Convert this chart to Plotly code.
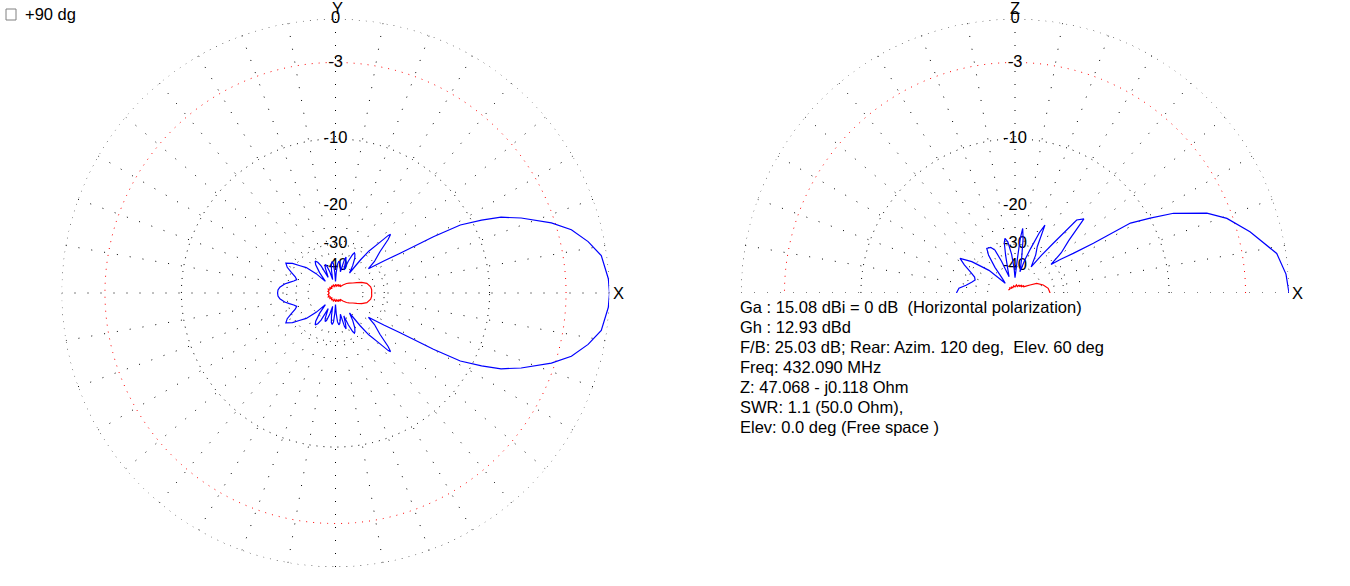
import plotly.graph_objects as go

# ---------------- data ----------------
# Azimuth (horizontal) plane, upper half 0..180 deg (pattern is symmetric)
az_deg = [0, 3, 8, 11.5, 15, 18, 22, 24.6, 26.5, 28.6,
          29.9, 31.6, 33.5, 35.5, 36.5, 39, 42.9, 45.5, 46.8, 47.5,
          49, 51.5, 53, 55, 58, 61, 63.5, 64.8, 66, 68,
          70, 72, 73.6, 75, 77, 80, 82, 84, 86, 88,
          90, 92, 94, 96, 98, 100, 102, 105, 108, 110,
          112, 115, 118, 120, 122.5, 125, 128, 131, 135, 139,
          142.5, 145.5, 149, 152, 155, 158, 161, 164, 167, 170,
          174, 177, 180]
az_hpol_db = [0, -0.05, -0.36, -1.06, -2.0, -3.27, -5.45, -7.1, -9.0, -11.4,
              -15.4, -22.3, -27.0, -31.5, -33.0, -29.5, -26.2, -22.5, -21.3, -21.8,
              -24.7, -28.4, -33, -42, -37, -33.5, -32, -31.6, -32.5, -36,
              -42, -37, -34.6, -36, -44, -40, -38, -37.3, -39, -45,
              -55, -45, -39, -37.5, -38.5, -43, -52, -44, -39, -38.3,
              -40, -48, -38, -35.5, -34.4, -36, -41, -50, -40, -34,
              -31.5, -28.8, -27.0, -28, -30, -32, -33, -32, -30.5, -29,
              -27.6, -27.1, -27]
az_v_deg = [0, 5, 10, 17, 22, 26, 30, 36, 41, 47,
            54, 60, 66, 72, 80, 88, 96, 104, 112, 120,
            128, 136, 144, 152, 160, 168, 174, 180]
az_vpol_db = [-35.2, -35.1, -35.4, -36.9, -39.5, -42.6, -45.5, -48.5, -51, -56,
              -62, -58, -63, -59, -64, -60, -65, -60, -64, -61,
              -66, -62, -65, -61, -64, -62, -65, -64]

# Elevation plane, 0..180 deg
el_deg = [0, 4, 8.6, 14.6, 19.4, 22.6, 26.7, 29, 31.2, 32.4,
          34.2, 36.5, 38.4, 41, 44.3, 47.1, 49.8, 52.4, 55, 58.3,
          61.5, 64.3, 66.2, 68, 70.6, 73.5, 76.8, 79, 81.5, 83.2,
          84.5, 86, 88, 90, 92, 95, 98, 100.4, 102, 104,
          107, 110, 113, 115, 118, 122.3, 125, 128, 131, 135,
          139, 144, 147.8, 151, 155, 158.5, 162, 166, 171, 175,
          180]
el_hpol_db = [0, -0.15, -0.6, -2.1, -3.45, -4.8, -7.55, -9.95, -12.3, -18.8,
              -23.6, -27.5, -31, -26, -22.5, -17.3, -18.3, -25.6, -31, -38,
              -32, -29.1, -22.7, -25, -30.5, -36, -44, -36, -28, -25,
              -28, -36, -45, -50, -42, -34, -29, -27.7, -29, -34,
              -42, -48, -36, -30.5, -29, -28.6, -31, -37, -46, -52,
              -36, -28.4, -25, -27, -30, -32, -32.6, -31.5, -29.7, -27.5,
              -26.8]
el_v_deg = [0, 8, 15.8, 24, 28, 32, 36, 40, 45, 50,
            56, 62, 70, 80, 90, 100, 110, 120, 125, 135,
            145, 156]
el_vpol_db = [-35.7, -36.5, -38.8, -42.5, -48.3, -53, -57, -55, -60, -57,
              -62, -59, -64, -61, -66, -63, -67, -64, -67, -63,
              -65, -63]

# Scale grid
ring_db_black = [0, -10, -30, -40]
ring_db_red = [-3]
label_db = [0, -3, -10, -20, -30, -40]
label_text = ["0", "-3", "-10", "-20", "-30", "-40"]
spoke_step_deg = 10
spoke_inner_db = -40

info_lines = [
    "Ga : 15.08 dBi = 0 dB \u00a0(Horizontal polarization)",
    "Gh : 12.93 dBd",
    "F/B: 25.03 dB; Rear: Azim. 120 deg, \u00a0Elev. 60 deg",
    "Freq: 432.090 MHz",
    "Z: 47.068 - j0.118 Ohm",
    "SWR: 1.1 (50.0 Ohm),",
    "Elev: 0.0 deg (Free space )",
]

assert len(az_deg) == len(az_hpol_db)
assert len(az_v_deg) == len(az_vpol_db)
assert len(el_deg) == len(el_hpol_db)
assert len(el_v_deg) == len(el_vpol_db)


# ---------------- helpers ----------------
def rscale(db):
    """MMANA log scale: radius proportional to 10^(dB/40)."""
    return [10 ** (d / 40.0) for d in db]


def mirror(deg, db):
    """Symmetric pattern: reflect the upper half into the lower half."""
    th = list(deg) + [360 - d for d in reversed(deg[:-1])]
    v = list(db) + list(reversed(db[:-1]))
    return th, v


FONT = "Liberation Sans, Arial, sans-serif"
FS = 16.5
W, H = 1350, 586
R = 274
CL = (335.5, 293)
CR = (1015, 293)

fig = go.Figure()


def add_grid(sub, a0, a1):
    full = (a1 - a0) >= 360
    # rings
    for dbs, col in ((ring_db_black, "black"), (ring_db_red, "red")):
        for d in dbs:
            n = int(abs(a1 - a0)) + 1
            th = [a0 + (a1 - a0) * i / (n - 1) for i in range(n)]
            fig.add_trace(go.Scatterpolar(
                r=rscale([d] * n), theta=th, mode="lines", subplot=sub,
                line=dict(color=col, width=1, dash="1px,6px"),
                hoverinfo="skip", cliponaxis=False))
    # spokes
    rr, tt = [], []
    ang = list(range(a0, a1 if full else a1 + 1, spoke_step_deg))
    for a in ang:
        rr += rscale([0, spoke_inner_db]) + [None]
        tt += [a, a, None]
    fig.add_trace(go.Scatterpolar(
        r=rr, theta=tt, mode="lines", subplot=sub,
        line=dict(color="black", width=1, dash="1px,12px"),
        hoverinfo="skip", cliponaxis=False, connectgaps=False))
    # scale labels
    fig.add_trace(go.Scatterpolar(
        r=rscale(label_db), theta=[90] * len(label_db), mode="text",
        text=label_text, textposition="middle center", subplot=sub,
        textfont=dict(family=FONT, size=FS, color="black"),
        hoverinfo="skip", cliponaxis=False))


add_grid("polar", 0, 360)
add_grid("polar2", 0, 180)

# patterns
th, v = mirror(az_deg, az_hpol_db)
fig.add_trace(go.Scatterpolar(r=rscale(v), theta=th, mode="lines", subplot="polar",
                              line=dict(color="#0000ff", width=1.2), cliponaxis=False))
th, v = mirror(az_v_deg, az_vpol_db)
fig.add_trace(go.Scatterpolar(r=rscale(v), theta=th, mode="lines", subplot="polar",
                              line=dict(color="#ff0000", width=1.2), cliponaxis=False))
fig.add_trace(go.Scatterpolar(r=rscale(el_hpol_db), theta=el_deg, mode="lines", subplot="polar2",
                              line=dict(color="#0000ff", width=1.2), cliponaxis=False))
fig.add_trace(go.Scatterpolar(r=rscale(el_vpol_db), theta=el_v_deg, mode="lines", subplot="polar2",
                              line=dict(color="#ff0000", width=1.2), cliponaxis=False))


def px(x):
    return x / W


def py(y):
    return 1 - y / H


polar_common = dict(
    bgcolor="white",
    radialaxis=dict(visible=False, range=[0, 1]),
    angularaxis=dict(visible=False, rotation=0, direction="counterclockwise"),
)

annotations = []
for i, line in enumerate(info_lines):
    annotations.append(dict(x=px(738), y=py(306.7 + 20 * i), xref="paper", yref="paper",
                            text=line, showarrow=False, xanchor="left", yanchor="middle",
                            font=dict(family=FONT, size=FS, color="black")))
for txt, x, y in (("Y", CL[0] + 1.5, 8), ("X", CL[0] + R + 9, CL[1]),
                  ("Z", CR[0], 8), ("X", CR[0] + R + 8, CR[1])):
    annotations.append(dict(x=px(x), y=py(y), xref="paper", yref="paper", text=txt,
                            showarrow=False, xanchor="center", yanchor="middle",
                            font=dict(family=FONT, size=FS, color="black")))
annotations.append(dict(x=px(23), y=py(14.5), xref="paper", yref="paper", text="+90 dg",
                        showarrow=False, xanchor="left", yanchor="middle",
                        font=dict(family=FONT, size=FS, color="black")))

fig.update_layout(
    width=W, height=H,
    margin=dict(l=0, r=0, t=0, b=0),
    paper_bgcolor="white", plot_bgcolor="white",
    showlegend=False,
    polar=dict(domain=dict(x=[px(CL[0] - R), px(CL[0] + R)],
                           y=[py(CL[1] + R), py(CL[1] - R)]), **polar_common),
    polar2=dict(domain=dict(x=[px(CR[0] - R), px(CR[0] + R)],
                            y=[py(CR[1]), py(CR[1] - R)]), sector=[0, 180], **polar_common),
    annotations=annotations,
    shapes=[dict(type="rect", xref="paper", yref="paper",
                 x0=px(6), x1=px(16), y0=py(20), y1=py(9),
                 line=dict(color="#808080", width=1), fillcolor="white")],
)

fig.write_html("out.html",
               config={"displayModeBar": False, "staticPlot": True},
               post_script="document.body.style.margin='0';document.body.style.overflow='hidden';")
